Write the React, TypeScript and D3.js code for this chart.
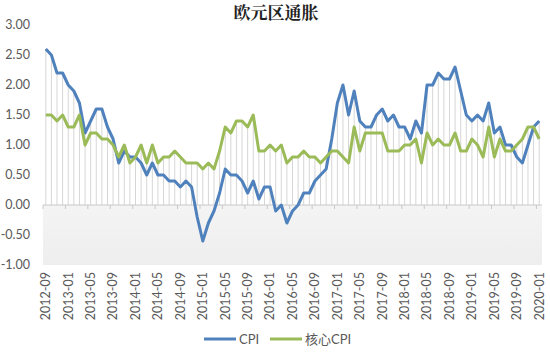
import { useEffect, useRef } from 'react'
import * as d3 from 'd3'

// months 2012-09 .. 2020-01
const months: string[] = []
for (let y = 2012, m = 9; y < 2020 || (y === 2020 && m <= 1); m++) {
  if (m > 12) { m = 1; y++ }
  if (y === 2020 && m > 1) break
  months.push(`${y}-${String(m).padStart(2, '0')}`)
}

const cpi = [
  2.6, 2.5, 2.2, 2.2, 2.0, 1.9, 1.7, 1.2, 1.4, 1.6, 1.6, 1.3, 1.1, 0.7, 0.9, 0.8,
  0.8, 0.7, 0.5, 0.7, 0.5, 0.5, 0.4, 0.4, 0.3, 0.4, 0.3, -0.2, -0.6, -0.3, -0.1, 0.2,
  0.6, 0.5, 0.5, 0.4, 0.2, 0.4, 0.1, 0.3, 0.3, -0.1, 0.0, -0.3, -0.1, 0.0, 0.2, 0.2,
  0.4, 0.5, 0.6, 1.1, 1.7, 2.0, 1.5, 1.9, 1.4, 1.3, 1.3, 1.5, 1.6, 1.4, 1.5, 1.3,
  1.3, 1.1, 1.4, 1.2, 2.0, 2.0, 2.2, 2.1, 2.1, 2.3, 1.9, 1.5, 1.4, 1.5, 1.4, 1.7,
  1.2, 1.3, 1.0, 1.0, 0.8, 0.7, 1.0, 1.3, 1.4
]

const core = [
  1.5, 1.5, 1.4, 1.5, 1.3, 1.3, 1.5, 1.0, 1.2, 1.2, 1.1, 1.1, 1.0, 0.8, 1.0, 0.7,
  0.8, 1.0, 0.7, 1.0, 0.7, 0.8, 0.8, 0.9, 0.8, 0.7, 0.7, 0.7, 0.6, 0.7, 0.6, 0.9,
  1.3, 1.2, 1.4, 1.4, 1.3, 1.5, 0.9, 0.9, 1.0, 0.9, 1.0, 0.7, 0.8, 0.8, 0.9, 0.8,
  0.8, 0.7, 0.8, 0.9, 0.9, 0.8, 0.7, 1.3, 0.9, 1.2, 1.2, 1.2, 1.2, 0.9, 0.9, 0.9,
  1.0, 1.0, 1.1, 0.7, 1.2, 1.0, 1.1, 1.0, 1.0, 1.2, 0.9, 0.9, 1.1, 1.0, 0.8, 1.3,
  0.8, 1.1, 0.9, 0.9, 1.0, 1.1, 1.3, 1.3, 1.1
]

const yTicks = [-1, -0.5, 0, 0.5, 1, 1.5, 2, 2.5, 3]
const seriesNames = ['CPI', '核心CPI']
const colors = ['#4f81bd', '#9bbb59']

export default function App() {
  const ref = useRef<SVGSVGElement>(null)

  useEffect(() => {
    const svg = d3.select(ref.current)
    svg.selectAll('*').remove()

    const left = 43, right = 542, top = 25, bottom = 265
    const x = d3.scaleBand<string>().domain(months).range([left, right]).padding(0)
    const y = d3.scaleLinear().domain([-1, 3]).range([bottom, top])
    const cx = (d: string) => (x(d) as number) + x.bandwidth() / 2
    const font = "Lato, 'Noto Sans CJK SC', sans-serif"

    const defs = svg.append('defs')
    const grad = defs.append('linearGradient').attr('id', 'neg').attr('x1', 0).attr('x2', 0).attr('y1', 0).attr('y2', 1)
    grad.append('stop').attr('offset', '0%').attr('stop-color', '#f4f4f4')
    grad.append('stop').attr('offset', '100%').attr('stop-color', '#eeeeee')

    svg.append('rect')
      .attr('x', left).attr('y', y(0))
      .attr('width', right - left).attr('height', bottom - y(0))
      .attr('fill', 'url(#neg)')

    // drop lines
    svg.append('g').selectAll('line')
      .data(months)
      .enter().append('line')
      .attr('x1', d => cx(d)).attr('x2', d => cx(d))
      .attr('y1', y(0))
      .attr('y2', (d, i) => y(Math.max(cpi[i], core[i], 0)))
      .attr('stroke', '#d6d6d6').attr('stroke-width', 1)

    // zero axis
    svg.append('line')
      .attr('x1', left).attr('x2', right)
      .attr('y1', y(0)).attr('y2', y(0))
      .attr('stroke', '#c8c8c8').attr('stroke-width', 1)

    svg.append('g').selectAll('line')
      .data(months.filter((d, i) => i % 4 === 0))
      .enter().append('line')
      .attr('x1', d => x(d) as number).attr('x2', d => x(d) as number)
      .attr('y1', y(0)).attr('y2', y(0) + 4)
      .attr('stroke', '#c8c8c8')

    // y labels
    svg.append('g').selectAll('text')
      .data(yTicks)
      .enter().append('text')
      .attr('x', 30).attr('y', d => y(d))
      .attr('dy', '0.35em')
      .attr('text-anchor', 'end')
      .attr('font-family', font).attr('font-size', 12.5)
      .attr('fill', '#595959')
      .text(d => d.toFixed(2))

    // x labels
    svg.append('g').selectAll('text')
      .data(months.filter((d, i) => i % 4 === 0))
      .enter().append('text')
      .attr('transform', d => `translate(${cx(d)},${272}) rotate(-90)`)
      .attr('dy', '0.35em')
      .attr('text-anchor', 'end')
      .attr('font-family', font).attr('font-size', 12.5)
      .attr('fill', '#595959')
      .text(d => d)

    const line = d3.line<number>()
      .x((d, i) => cx(months[i]))
      .y(d => y(d))

    ;[cpi, core].forEach((s, k) => {
      svg.append('path')
        .datum(s)
        .attr('d', line)
        .attr('fill', 'none')
        .attr('stroke', colors[k])
        .attr('stroke-width', 3)
        .attr('stroke-linejoin', 'round')
    })

    // title
    svg.append('text')
      .attr('x', 276).attr('y', 19)
      .attr('text-anchor', 'middle')
      .attr('font-family', "'Noto Serif CJK SC', 'Noto Sans CJK SC', serif")
      .attr('font-weight', 'bold')
      .attr('font-size', 17)
      .attr('fill', '#222')
      .text('欧元区通胀')

    // legend
    const legendX = [204, 270]
    seriesNames.forEach((name, k) => {
      const g = svg.append('g').attr('transform', `translate(${legendX[k]},339)`)
      g.append('line').attr('x1', 0).attr('x2', 32).attr('y1', 0).attr('y2', 0)
        .attr('stroke', colors[k]).attr('stroke-width', 3)
      g.append('text').attr('x', 35).attr('dy', '0.35em')
        .attr('font-family', font).attr('font-size', 13)
        .attr('fill', '#595959')
        .text(name)
    })
  }, [])

  return (
    <svg ref={ref} width={550} height={355}
      style={{ position: 'absolute', left: 0, top: 0, background: '#fff' }} />
  )
}
